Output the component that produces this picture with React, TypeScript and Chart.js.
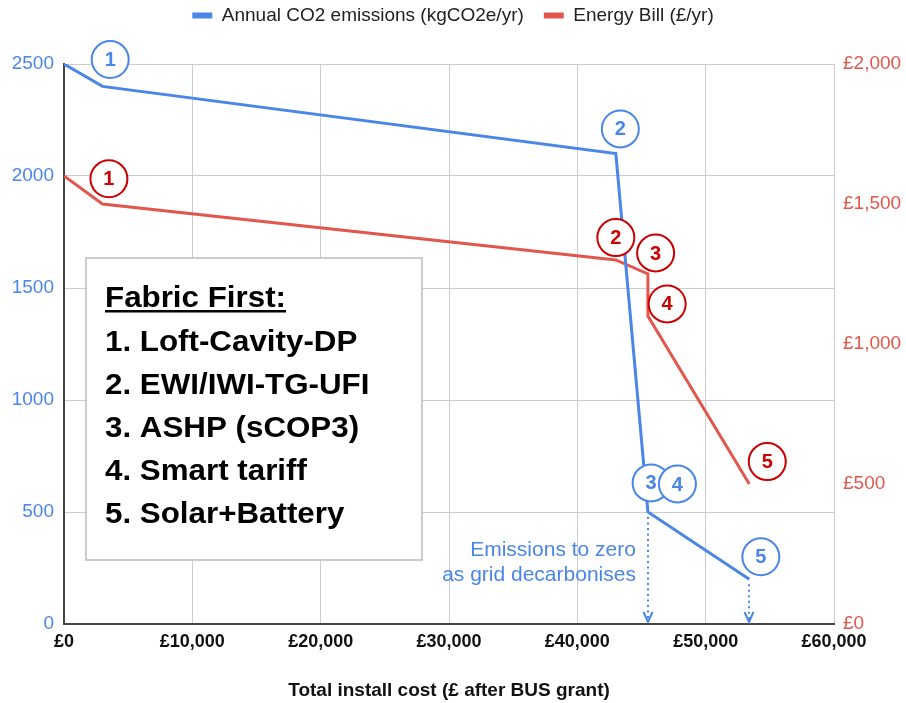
import React, { useEffect, useRef } from 'react';
import { Chart, registerables } from 'chart.js';

Chart.register(...registerables);

const FONT = '"Liberation Sans", Arial, Helvetica, sans-serif';
const BLUE = '#4a86e8';
const RED = '#e2574c';
const DARK_RED = '#cc0000';

// ---- data ----
const seriesNames = ['Annual CO2 emissions (kgCO2e/yr)', 'Energy Bill (£/yr)'];
const emissionCost = [0, 3000, 43000, 45500, 53400];
const emissionValues = [2500, 2400, 2100, 500, 200];
const billCost = [0, 3000, 43000, 45500, 45500, 53400];
const billValues = [1600, 1500, 1300, 1250, 1100, 500];

const xTickValues = [0, 10000, 20000, 30000, 40000, 50000, 60000];
const emissionTickValues = [0, 500, 1000, 1500, 2000, 2500];
const billTickValues = [0, 500, 1000, 1500, 2000];
const xTitle = 'Total install cost (£ after BUS grant)';

const emissionMarkerLabels = ['1', '2', '3', '4', '5'];
const emissionMarkerCost = [3600, 43350, 45750, 47800, 54300];
const emissionMarkerValue = [2520, 2210, 630, 625, 300];
const billMarkerLabels = ['1', '2', '3', '4', '5'];
const billMarkerCost = [3500, 43000, 46100, 47000, 54800];
const billMarkerValue = [1590, 1380, 1325, 1143, 580];

const arrowCost = [45500, 53400];
const arrowFromValue = [500, 200];
const noteLines = ['Emissions to zero', 'as grid decarbonises'];
const boxTitle = 'Fabric First:';
const boxLines = ['1. Loft-Cavity-DP', '2. EWI/IWI-TG-UFI', '3. ASHP (sCOP3)', '4. Smart tariff', '5. Solar+Battery'];

const money = (v: number) => '£' + String(v).replace(/\B(?=(\d{3})+(?!\d))/g, ',');

function drawCircle(ctx: CanvasRenderingContext2D, x: number, y: number, label: string, color: string) {
  ctx.save();
  ctx.beginPath();
  ctx.arc(x, y, 18.5, 0, Math.PI * 2);
  ctx.fillStyle = '#ffffff';
  ctx.fill();
  ctx.lineWidth = 2;
  ctx.strokeStyle = color;
  ctx.stroke();
  ctx.fillStyle = color;
  ctx.font = `bold 20px ${FONT}`;
  ctx.textAlign = 'center';
  ctx.textBaseline = 'middle';
  ctx.fillText(label, x, y + 1);
  ctx.restore();
}

const annotationPlugin = {
  id: 'annotationPlugin',
  beforeInit(chart: any) {
    const legend = chart.legend;
    if (legend) {
      const orig = legend.fit;
      legend.fit = function () {
        orig.call(this);
        this.height = 78;
      };
    }
  },
  beforeDatasetsDraw(chart: any) {
    const { ctx, chartArea } = chart;
    const bx = chartArea.left + 22;
    const by = chartArea.top + 194;
    const bw = 336;
    const bh = 302;
    ctx.save();
    ctx.fillStyle = '#ffffff';
    ctx.fillRect(bx, by, bw, bh);
    ctx.lineWidth = 2;
    ctx.strokeStyle = '#cccccc';
    ctx.strokeRect(bx, by, bw, bh);
    const sx = 1.08;
    ctx.translate(bx + 19, by);
    ctx.scale(sx, 1);
    ctx.font = `bold 29px ${FONT}`;
    ctx.fillStyle = '#000000';
    ctx.textAlign = 'left';
    ctx.textBaseline = 'alphabetic';
    ctx.fillText(boxTitle, 0, 49);
    const tw = ctx.measureText(boxTitle).width;
    ctx.fillRect(0, 52, tw, 2.5);
    boxLines.forEach((line, i) => {
      ctx.fillText(line, 0, 93 + 43 * i);
    });
    ctx.restore();
  },
  afterDatasetsDraw(chart: any) {
    const { ctx, chartArea, scales } = chart;
    const xs = scales.x;
    const ys = scales.y;
    const y1s = scales.y1;
    ctx.save();
    // dotted arrows
    arrowCost.forEach((c, i) => {
      const x = Math.round(xs.getPixelForValue(c));
      const yStart = ys.getPixelForValue(arrowFromValue[i]) + 5;
      const yEnd = chartArea.bottom - 2;
      ctx.strokeStyle = BLUE;
      ctx.lineWidth = 2;
      ctx.setLineDash([2, 3.5]);
      ctx.beginPath();
      ctx.moveTo(x, yStart);
      ctx.lineTo(x, yEnd - 3);
      ctx.stroke();
      ctx.setLineDash([]);
      ctx.lineWidth = 2;
      ctx.beginPath();
      ctx.moveTo(x - 4.5, yEnd - 10);
      ctx.lineTo(x, yEnd);
      ctx.lineTo(x + 4.5, yEnd - 10);
      ctx.stroke();
    });
    // note text
    const nx = xs.getPixelForValue(arrowCost[0]) - 12;
    ctx.font = `21px ${FONT}`;
    ctx.fillStyle = BLUE;
    ctx.textAlign = 'right';
    ctx.textBaseline = 'middle';
    noteLines.forEach((line, i) => {
      ctx.fillText(line, nx, chartArea.bottom - 74 + 25 * i);
    });
    ctx.restore();
    // numbered markers
    billMarkerLabels.forEach((lab, i) => {
      drawCircle(ctx, xs.getPixelForValue(billMarkerCost[i]), y1s.getPixelForValue(billMarkerValue[i]), lab, DARK_RED);
    });
    emissionMarkerLabels.forEach((lab, i) => {
      drawCircle(ctx, xs.getPixelForValue(emissionMarkerCost[i]), ys.getPixelForValue(emissionMarkerValue[i]), lab, BLUE);
    });
  },
};

export default function App() {
  const canvasRef = useRef<HTMLCanvasElement | null>(null);

  useEffect(() => {
    if (!canvasRef.current) return;
    const chart = new Chart(canvasRef.current, {
      type: 'line',
      data: {
        datasets: [
          {
            label: seriesNames[0],
            data: emissionCost.map((c, i) => ({ x: c, y: emissionValues[i] })),
            borderColor: BLUE,
            backgroundColor: BLUE,
            borderWidth: 3,
            pointRadius: 0,
            tension: 0,
            yAxisID: 'y',
          },
          {
            label: seriesNames[1],
            data: billCost.map((c, i) => ({ x: c, y: billValues[i] })),
            borderColor: RED,
            backgroundColor: RED,
            borderWidth: 3,
            pointRadius: 0,
            tension: 0,
            yAxisID: 'y1',
          },
        ],
      },
      options: {
        animation: false,
        responsive: true,
        maintainAspectRatio: false,
        layout: { padding: { top: -14, left: 0, right: 0, bottom: 0 } },
        plugins: {
          tooltip: { enabled: false },
          legend: {
            display: true,
            position: 'top',
            align: 'center',
            labels: {
              boxWidth: 20,
              boxHeight: 6,
              padding: 20,
              color: '#222222',
              font: { family: FONT, size: 19 },
              generateLabels: (c: any) =>
                (Chart.defaults.plugins.legend.labels as any).generateLabels(c).map((l: any) => ({ ...l, lineWidth: 0 })),
            },
          },
        },
        scales: {
          x: {
            type: 'linear',
            min: 0,
            max: 60000,
            afterBuildTicks: (s: any) => {
              s.ticks = xTickValues.map((v) => ({ value: v }));
            },
            afterFit: (s: any) => {
              s.height = 79;
            },
            ticks: {
              color: '#111111',
              font: { family: FONT, size: 18, weight: 'bold' },
              padding: 7,
              maxRotation: 0,
              autoSkip: false,
              callback: (v: any) => money(Number(v)),
            },
            grid: { color: '#cccccc', lineWidth: 1, drawTicks: false },
            border: { display: true, color: '#444444', width: 2 },
            title: {
              display: true,
              text: xTitle,
              color: '#111111',
              font: { family: FONT, size: 19, weight: 'bold' },
              padding: { top: 0, bottom: 1 },
            },
          },
          y: {
            type: 'linear',
            position: 'left',
            min: 0,
            max: 2500,
            afterBuildTicks: (s: any) => {
              s.ticks = emissionTickValues.map((v) => ({ value: v }));
            },
            afterFit: (s: any) => {
              s.width = 64;
            },
            ticks: {
              color: BLUE,
              font: { family: FONT, size: 19 },
              padding: 10,
              callback: (v: any) => String(v),
            },
            grid: { color: '#cccccc', lineWidth: 1, drawTicks: false },
            border: { display: true, color: '#444444', width: 2 },
          },
          y1: {
            type: 'linear',
            position: 'right',
            min: 0,
            max: 2000,
            afterBuildTicks: (s: any) => {
              s.ticks = billTickValues.map((v) => ({ value: v }));
            },
            afterFit: (s: any) => {
              s.width = 72;
            },
            ticks: {
              color: RED,
              font: { family: FONT, size: 19 },
              padding: 9,
              callback: (v: any) => money(Number(v)),
            },
            grid: { display: false, drawTicks: false },
            border: { display: false },
          },
        },
      },
      plugins: [annotationPlugin],
    } as any);
    return () => chart.destroy();
  }, []);

  return (
    <div style={{ position: 'absolute', left: 0, top: 0, width: 906, height: 703, background: '#ffffff' }}>
      <canvas ref={canvasRef} />
    </div>
  );
}
